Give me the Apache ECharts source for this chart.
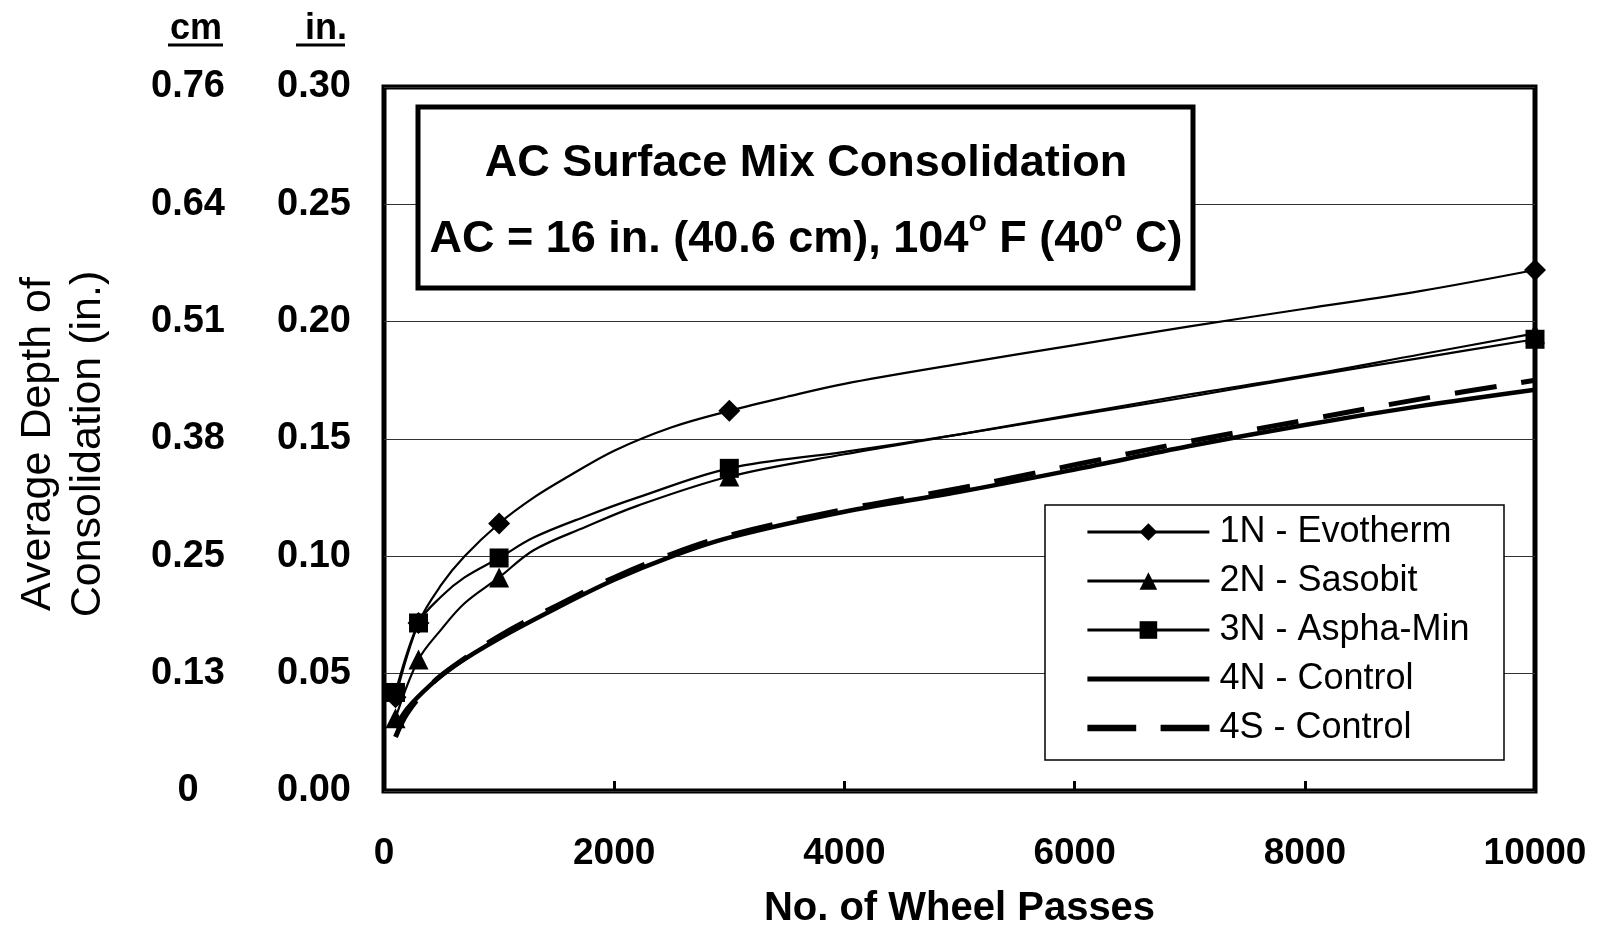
<!DOCTYPE html>
<html>
<head>
<meta charset="utf-8">
<script src="https://cdn.jsdelivr.net/npm/echarts@6/dist/echarts.min.js"></script>
<style>
  html, body { margin: 0; padding: 0; background: #fff; }
  #chart { width: 1599px; height: 927px; }
</style>
</head>
<body>
<div id="chart"></div>
<script>
// x ticks / y ticks
const xTicks = [0, 2000, 4000, 6000, 8000, 10000];
const inLabels = ['0.00', '0.05', '0.10', '0.15', '0.20', '0.25', '0.30'];
const cmLabels = ['0', '0.13', '0.25', '0.38', '0.51', '0.64', '0.76'];

// wheel passes where a marker is drawn
const markedPasses = [100, 300, 1000, 3000, 10000];

// 1N - Evotherm
const passes1N = [100, 300, 500, 700, 1000, 1300, 1600, 2000, 2500, 3000, 3500, 4000, 5000, 6000, 7000, 8000, 9000, 10000];
const depth1N = [0.040, 0.0716, 0.088, 0.100, 0.114, 0.125, 0.134, 0.145, 0.155, 0.162, 0.168, 0.1735, 0.182, 0.190, 0.198, 0.2055, 0.213, 0.222];

// 2N - Sasobit / 3N - Aspha-Min
const passesN23 = [100, 300, 500, 700, 1000, 1300, 1750, 2200, 3000, 4000, 5000, 6000, 7000, 8000, 9000, 10000];
const depth2N = [0.031, 0.056, 0.069, 0.080, 0.091, 0.1026, 0.1125, 0.1215, 0.134, 0.1435, 0.152, 0.1605, 0.169, 0.177, 0.186, 0.195];
const depth3N = [0.042, 0.0716, 0.083, 0.091, 0.0993, 0.108, 0.117, 0.125, 0.1375, 0.1445, 0.152, 0.160, 0.168, 0.1765, 0.1845, 0.1925];

// 4N / 4S - Control
const passesCtl = [100, 200, 400, 600, 1000, 1500, 2000, 2500, 3000, 4000, 5000, 6000, 7000, 8000, 9000, 10000];
const depth4N = [0.027, 0.035, 0.045, 0.053, 0.065, 0.078, 0.090, 0.100, 0.108, 0.119, 0.1275, 0.137, 0.147, 0.156, 0.164, 0.171];
const depth4S = [0.023, 0.033, 0.045, 0.053, 0.066, 0.079, 0.091, 0.101, 0.109, 0.120, 0.129, 0.139, 0.149, 0.158, 0.167, 0.175];

const FONT = '"Liberation Sans", Arial, sans-serif';

function withMarkers(passes, depth) {
  return passes.map((x, i) =>
    markedPasses.includes(x) ? [x, depth[i]] : { value: [x, depth[i]], symbol: 'none' }
  );
}

const chart = echarts.init(document.getElementById('chart'));

const thinLine = { color: '#000', width: 2.2 };
const SMOOTH = 0.35;

chart.setOption({
  backgroundColor: '#fff',
  animation: false,
  grid: {
    left: 384, top: 87, width: 1151, height: 704, outerBoundsMode: 'none',
    show: true, borderColor: '#000', borderWidth: 5, backgroundColor: 'transparent'
  },
  xAxis: {
    type: 'value', min: 0, max: 10000, interval: 2000,
    name: 'No. of Wheel Passes', nameLocation: 'middle', nameGap: 98,
    nameTextStyle: { fontFamily: FONT, fontWeight: 'bold', fontSize: 40, color: '#000' },
    axisLine: { show: false },
    axisTick: { show: true, inside: true, length: 10, lineStyle: { color: '#000', width: 3 } },
    splitLine: { show: false },
    axisLabel: {
      margin: 44, fontFamily: FONT, fontWeight: 'bold', fontSize: 37, color: '#000',
      formatter: v => String(xTicks[Math.round(v / 2000)])
    }
  },
  yAxis: [{
    type: 'value', min: 0, max: 0.30, interval: 0.05,
    name: 'Average Depth of\nConsolidation (in.)', nameLocation: 'middle', nameRotate: 90, nameGap: 271,
    nameTextStyle: { fontFamily: FONT, fontSize: 43, lineHeight: 50, color: '#000', padding: [0, 10, 0, 0] },
    axisLine: { show: false },
    axisTick: { show: false },
    splitLine: { show: true, lineStyle: { color: '#333', width: 1.2 } },
    axisLabel: {
      margin: 33, fontFamily: FONT, fontWeight: 'bold', fontSize: 38, color: '#000',
      formatter: v => inLabels[Math.round(v / 0.05)]
    }
  }, {
    type: 'value', min: 0, max: 0.30, interval: 0.05, position: 'left',
    axisLine: { show: false }, axisTick: { show: false }, splitLine: { show: false },
    axisLabel: {
      margin: 196, align: 'center', fontFamily: FONT, fontWeight: 'bold', fontSize: 38, color: '#000',
      formatter: v => cmLabels[Math.round(v / 0.05)]
    }
  }],
  legend: {
    orient: 'vertical', left: 1086, top: 514, z: 20,
    itemWidth: 122, itemHeight: 22, itemGap: 13, padding: 0,
    lineStyle: { width: 2.8 },
    textStyle: { fontFamily: FONT, fontSize: 36, lineHeight: 35, color: '#000', padding: [0, 0, 0, 5] },
    data: [
      '1N - Evotherm', '2N - Sasobit', '3N - Aspha-Min',
      { name: '4N - Control', icon: 'path://M0,0H120V5H0Z' },
      { name: '4S - Control', icon: 'path://M0,0H46V6H0Z M69,0H115V6H69Z' }
    ]
  },
  series: [{
    name: '1N - Evotherm', type: 'line', smooth: SMOOTH,
    symbol: 'diamond', symbolSize: 22, showAllSymbol: true,
    itemStyle: { color: '#000' }, lineStyle: thinLine,
    data: withMarkers(passes1N, depth1N)
  }, {
    name: '2N - Sasobit', type: 'line', smooth: SMOOTH,
    symbol: 'triangle', symbolSize: 20, showAllSymbol: true,
    itemStyle: { color: '#000' }, lineStyle: thinLine,
    data: withMarkers(passesN23, depth2N)
  }, {
    name: '3N - Aspha-Min', type: 'line', smooth: SMOOTH,
    symbol: 'rect', symbolSize: 19, showAllSymbol: true,
    itemStyle: { color: '#000' }, lineStyle: thinLine,
    data: withMarkers(passesN23, depth3N)
  }, {
    name: '4N - Control', type: 'line', smooth: SMOOTH,
    symbol: 'none', itemStyle: { color: '#000' },
    lineStyle: { color: '#000', width: 4.5 },
    data: passesCtl.map((x, i) => [x, depth4N[i]])
  }, {
    name: '4S - Control', type: 'line', smooth: SMOOTH,
    symbol: 'none', itemStyle: { color: '#000' },
    lineStyle: { color: '#000', width: 5, type: [42, 25] },
    data: passesCtl.map((x, i) => [x, depth4S[i]])
  }],
  graphic: [
    // title box
    { type: 'rect', z: 10, shape: { x: 418, y: 107, width: 775, height: 181 },
      style: { fill: '#fff', stroke: '#000', lineWidth: 5 } },
    { type: 'text', z: 11, x: 806, y: 164,
      style: { text: 'AC Surface Mix Consolidation', fontFamily: FONT, fontWeight: 'bold', fontSize: 45,
        fill: '#000', align: 'center', verticalAlign: 'middle' } },
    { type: 'text', z: 11, x: 806, y: 240,
      style: {
        text: 'AC = 16 in. (40.6 cm), 104{sup|o} F (40{sup|o} C)',
        fontFamily: FONT, fontWeight: 'bold', fontSize: 45, lineHeight: 45, fill: '#000',
        align: 'center', verticalAlign: 'middle',
        rich: { sup: { fontFamily: FONT, fontWeight: 'bold', fontSize: 30, padding: [-10, 0, 0, 0], verticalAlign: 'top', fill: '#000' } }
      } },
    // legend box
    { type: 'rect', z: 10, shape: { x: 1045, y: 505, width: 459, height: 255 },
      style: { fill: '#fff', stroke: '#000', lineWidth: 1.5 } },
    // unit headers
    { type: 'text', z: 11, x: 196, y: 29,
      style: { text: 'cm', fontFamily: FONT, fontWeight: 'bold', fontSize: 36, fill: '#000', align: 'center', verticalAlign: 'middle' } },
    { type: 'line', z: 11, shape: { x1: 168, y1: 45, x2: 223, y2: 45 }, style: { stroke: '#000', lineWidth: 3 } },
    { type: 'text', z: 11, x: 326, y: 29,
      style: { text: 'in.', fontFamily: FONT, fontWeight: 'bold', fontSize: 36, fill: '#000', align: 'center', verticalAlign: 'middle' } },
    { type: 'line', z: 11, shape: { x1: 296, y1: 45, x2: 345, y2: 45 }, style: { stroke: '#000', lineWidth: 3 } }
  ]
});
</script>
</body>
</html>
